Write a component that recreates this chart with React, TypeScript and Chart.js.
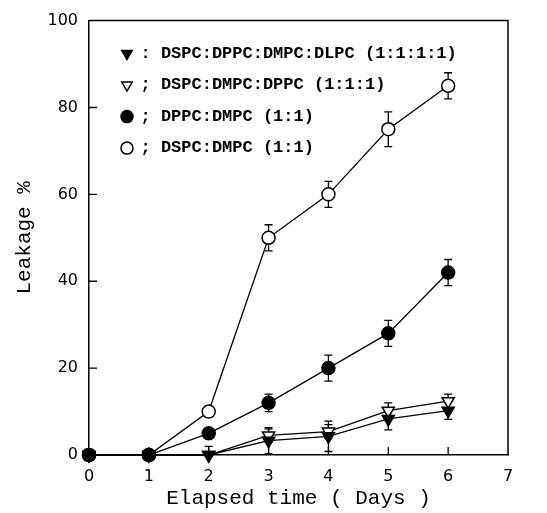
import React, { useEffect, useRef } from "react";
import { Chart, registerables } from "chart.js";

Chart.register(...registerables);

// ---- data ----
const days = [0, 1, 2, 3, 4, 5, 6];
const seriesLabels = [
  "DSPC:DPPC:DMPC:DLPC (1:1:1:1)",
  "DSPC:DMPC:DPPC (1:1:1)",
  "DPPC:DMPC (1:1)",
  "DSPC:DMPC (1:1)",
];
const separators = [":", ";", ";", ";"];
const quadLeak = [0, 0, 0, 3.3, 4.3, 8.3, 10.2];
const quadErr = [0, 0, 2, 3, 3.5, 2.5, 2];
const triLeak = [0, 0, 0, 4.5, 5.4, 10.2, 12.4];
const triErr = [0, 0, 0, 1.5, 1.6, 1.8, 1.6];
const dppcLeak = [0, 0, 5, 12, 20, 28, 42];
const dppcErr = [0, 0, 0, 2, 3, 3, 3];
const dspcLeak = [0, 0, 10, 50, 60, 75, 85];
const dspcErr = [0, 0, 0, 3, 3, 4, 3];
const xTicksInner = [1, 2, 3, 4, 5, 6];
const yTicksInner = [20, 40, 60, 80];

const toPoints = (vals: number[]) => vals.map((v, i) => ({ x: days[i], y: v }));

const errorBarPlugin = {
  id: "errorBars",
  beforeDatasetsDraw(chart: any) {
    const ctx = chart.ctx;
    const ys = chart.scales.y;
    const area = chart.chartArea;
    ctx.save();
    ctx.strokeStyle = "#000";
    ctx.lineWidth = 1.3;
    chart.data.datasets.forEach((ds: any, i: number) => {
      const meta = chart.getDatasetMeta(i);
      const errs: number[] = ds.errors || [];
      meta.data.forEach((pt: any, j: number) => {
        const e = errs[j];
        if (!e) return;
        const v = ds.data[j].y;
        const x = pt.x;
        const yt = ys.getPixelForValue(v + e);
        const yb = Math.min(ys.getPixelForValue(v - e), area.bottom);
        ctx.beginPath();
        ctx.moveTo(x, yt);
        ctx.lineTo(x, yb);
        ctx.moveTo(x - 4, yt);
        ctx.lineTo(x + 4, yt);
        if (yb < area.bottom) {
          ctx.moveTo(x - 4, yb);
          ctx.lineTo(x + 4, yb);
        }
        ctx.stroke();
      });
    });
    ctx.restore();
  },
};

const framePlugin = {
  id: "frame",
  afterDraw(chart: any) {
    const { ctx, chartArea: a, scales } = chart;
    ctx.save();
    ctx.strokeStyle = "#000";
    ctx.lineWidth = 1.5;
    ctx.beginPath();
    ctx.moveTo(a.left, a.top);
    ctx.lineTo(a.right, a.top);
    ctx.lineTo(a.right, a.bottom);
    ctx.stroke();
    ctx.lineWidth = 1.3;
    ctx.beginPath();
    yTicksInner.forEach((v) => {
      const y = scales.y.getPixelForValue(v);
      ctx.moveTo(a.left, y);
      ctx.lineTo(a.left + 8, y);
    });
    xTicksInner.forEach((v) => {
      const x = scales.x.getPixelForValue(v);
      ctx.moveTo(x, a.bottom);
      ctx.lineTo(x, a.bottom - 8);
    });
    ctx.stroke();
    ctx.restore();
  },
};

const legendPlacer = {
  id: "legendPlacer",
  afterLayout(chart: any) {
    const lg = chart.legend;
    if (!lg) return;
    const a = chart.chartArea;
    lg.left = a.left + 18.5;
    lg.top = a.top + 10;
    lg.right = a.right;
    lg.bottom = a.bottom;
    lg.width = lg.right - lg.left;
    lg.height = lg.bottom - lg.top;
  },
};

export default function App() {
  const ref = useRef<HTMLCanvasElement | null>(null);
  useEffect(() => {
    if (!ref.current) return;
    const common = {
      borderColor: "#000",
      borderWidth: 1.3,
      pointBorderColor: "#000",
      pointBorderWidth: 1.5,
      fill: false,
      tension: 0,
      clip: false,
    };
    const chart = new Chart(ref.current, {
      type: "line",
      data: {
        datasets: [
          {
            ...common,
            label: seriesLabels[0],
            data: toPoints(quadLeak),
            errors: quadErr,
            backgroundColor: "#000",
            pointBackgroundColor: "#000",
            pointStyle: "triangle",
            pointRotation: 180,
            pointRadius: 7,
            order: 1,
          } as any,
          {
            ...common,
            label: seriesLabels[1],
            data: toPoints(triLeak),
            errors: triErr,
            backgroundColor: "#fff",
            pointBackgroundColor: "#fff",
            pointStyle: "triangle",
            pointRotation: 180,
            pointRadius: 7,
            order: 2,
          } as any,
          {
            ...common,
            label: seriesLabels[2],
            data: toPoints(dppcLeak),
            errors: dppcErr,
            backgroundColor: "#000",
            pointBackgroundColor: "#000",
            pointStyle: "circle",
            pointRadius: 6.5,
            order: 0,
          } as any,
          {
            ...common,
            label: seriesLabels[3],
            data: toPoints(dspcLeak),
            errors: dspcErr,
            backgroundColor: "#fff",
            pointBackgroundColor: "#fff",
            pointStyle: "circle",
            pointRadius: 6.5,
            order: 3,
          } as any,
        ],
      },
      options: {
        responsive: false,
        animation: false,
        devicePixelRatio: 1,
        layout: { padding: { top: 16, right: 39, left: 0, bottom: 0 } },
        plugins: {
          tooltip: { enabled: false },
          legend: {
            position: "chartArea" as any,
            align: "start",
            labels: {
              usePointStyle: true,
              boxWidth: 10,
              boxHeight: 8.5,
              padding: 14.5,
              color: "#000",
              font: { family: "'Liberation Mono', monospace", size: 17, weight: "bold" },
              sort: (a: any, b: any) => a.datasetIndex - b.datasetIndex,
              generateLabels: (c: any) => {
                const items = (Chart.defaults.plugins.legend.labels as any).generateLabels(c);
                return items.map((it: any) => ({
                  ...it,
                  text: separators[it.datasetIndex] + " " + c.data.datasets[it.datasetIndex].label,
                  fontColor: "#000",
                }));
              },
            },
          },
        },
        scales: {
          x: {
            type: "linear",
            min: 0,
            max: 7,
            afterFit: (s: any) => {
              s.height = 58;
            },
            grid: { display: false, drawTicks: false },
            border: { display: true, color: "#000", width: 1.5 },
            ticks: {
              stepSize: 1,
              padding: 12,
              color: "#000",
              font: { family: "'DejaVu Sans', sans-serif", size: 16 },
            },
            title: {
              display: true,
              text: "Elapsed time ( Days )",
              color: "#000",
              font: { family: "'Liberation Mono', monospace", size: 21 },
              padding: { top: 0, bottom: 2 },
            },
          },
          y: {
            type: "linear",
            min: 0,
            max: 100,
            afterFit: (s: any) => {
              s.width = 89;
            },
            grid: { display: false, drawTicks: false },
            border: { display: true, color: "#000", width: 1.5 },
            ticks: {
              stepSize: 20,
              padding: 11,
              color: "#000",
              font: { family: "'DejaVu Sans', sans-serif", size: 16 },
            },
            title: {
              display: true,
              text: "Leakage %",
              color: "#000",
              font: { family: "'Liberation Mono', monospace", size: 21 },
              padding: { top: 12, bottom: 0 },
            },
          },
        },
      } as any,
      plugins: [errorBarPlugin, framePlugin, legendPlacer],
    });
    return () => chart.destroy();
  }, []);
  return (
    <div style={{ position: "fixed", left: 0, top: 0, width: 547, height: 513, background: "#fff" }}>
      <canvas ref={ref} width={547} height={513} />
    </div>
  );
}
